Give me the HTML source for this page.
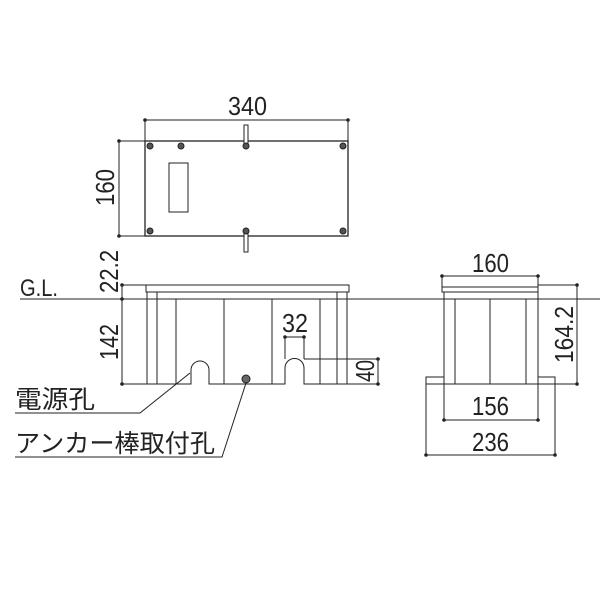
<!DOCTYPE html>
<html><head><meta charset="utf-8"><style>html,body{margin:0;padding:0;background:#fff}svg{display:block}</style></head><body>
<svg width="600" height="600" viewBox="0 0 600 600" xmlns="http://www.w3.org/2000/svg">
<g stroke="#222" stroke-width="1" fill="none">
<rect x="145" y="141" width="203" height="95" stroke-width="1.3"/>
<rect x="169" y="163" width="19" height="49"/>
<line x1="145" y1="120" x2="348" y2="120"/><line x1="145" y1="120" x2="145" y2="141"/><line x1="348" y1="120" x2="348" y2="141"/>
<line x1="119" y1="141" x2="145" y2="141"/><line x1="119" y1="236" x2="145" y2="236"/><line x1="119" y1="141" x2="119" y2="236"/>
<rect x="244" y="125" width="4" height="20" fill="#fff"/><rect x="244" y="232" width="4" height="20" fill="#fff"/>
<g fill="#555"><circle cx="150" cy="146" r="3"/><circle cx="181" cy="146" r="3"/><circle cx="246" cy="146" r="3"/><circle cx="343" cy="146" r="3"/><circle cx="150" cy="231" r="3"/><circle cx="246" cy="231" r="3"/><circle cx="343" cy="231" r="3"/></g>
<rect x="146" y="285" width="203" height="7"/>
<line x1="20" y1="299" x2="600" y2="299"/>
<path d="M147 292V384M157 292V384M176 299V384M224 299V384M272 299V384M320 299V384M337 292V384M347 292V384"/>
<path d="M122 384H191V370A9 9 0 0 1 209 370V384H285V368A9.5 9.5 0 0 1 304 368V384H347"/>
<line x1="122" y1="285" x2="146" y2="285"/><line x1="122" y1="285" x2="122" y2="384"/>
<line x1="285" y1="337" x2="304" y2="337"/><line x1="285" y1="337" x2="285" y2="359"/><line x1="304" y1="337" x2="304" y2="359"/>
<line x1="304" y1="359" x2="378" y2="359"/><line x1="347" y1="384" x2="378" y2="384"/><line x1="378" y1="359" x2="378" y2="384"/>
<circle cx="246" cy="379" r="4" fill="#666"/>
<path d="M190 373L140 413H15"/><path d="M246 383L222 457H15"/>
<rect x="442" y="287" width="96" height="5"/>
<path d="M444 292V384H538V292M455 299V384M490 299V384M526 299V384"/>
<rect x="426" y="377" width="18" height="7"/><rect x="538" y="377" width="17" height="7"/>
<line x1="442" y1="276" x2="538" y2="276"/><line x1="442" y1="276" x2="442" y2="287"/><line x1="538" y1="276" x2="538" y2="287"/>
<line x1="538" y1="285" x2="577" y2="285"/><line x1="555" y1="384" x2="577" y2="384"/><line x1="577" y1="285" x2="577" y2="384"/>
<line x1="444" y1="384" x2="444" y2="420"/><line x1="538" y1="384" x2="538" y2="420"/><line x1="444" y1="420" x2="538" y2="420"/>
<line x1="426" y1="384" x2="426" y2="455"/><line x1="555" y1="384" x2="555" y2="455"/><line x1="426" y1="455" x2="555" y2="455"/>
</g>
<g fill="#222">
<circle cx="145" cy="120" r="1.8"/><circle cx="348" cy="120" r="1.8"/><circle cx="119" cy="141" r="1.8"/><circle cx="119" cy="236" r="1.8"/>
<circle cx="122" cy="285" r="1.8"/><circle cx="122" cy="299" r="1.8"/><circle cx="122" cy="384" r="1.8"/>
<circle cx="285" cy="337" r="1.8"/><circle cx="304" cy="337" r="1.8"/><circle cx="378" cy="359" r="1.8"/><circle cx="378" cy="384" r="1.8"/>
<circle cx="442" cy="276" r="1.8"/><circle cx="538" cy="276" r="1.8"/><circle cx="577" cy="285" r="1.8"/><circle cx="577" cy="384" r="1.8"/>
<circle cx="444" cy="420" r="1.8"/><circle cx="538" cy="420" r="1.8"/><circle cx="426" cy="455" r="1.8"/><circle cx="555" cy="455" r="1.8"/>
</g>
<g font-family="'Liberation Sans',sans-serif" font-size="26" fill="#222" lengthAdjust="spacingAndGlyphs">
<text x="228" y="115" textLength="39" lengthAdjust="spacingAndGlyphs">340</text>
<text transform="translate(114,206) rotate(-90)" textLength="37" lengthAdjust="spacingAndGlyphs">160</text>
<text transform="translate(118,293) rotate(-90)" textLength="43" lengthAdjust="spacingAndGlyphs">22.2</text>
<text transform="translate(118,360) rotate(-90)" textLength="36" lengthAdjust="spacingAndGlyphs">142</text>
<text x="282" y="332" textLength="26" lengthAdjust="spacingAndGlyphs">32</text>
<text transform="translate(374,382) rotate(-90)" textLength="22" lengthAdjust="spacingAndGlyphs">40</text>
<text x="472" y="272" textLength="37" lengthAdjust="spacingAndGlyphs">160</text>
<text transform="translate(573,363) rotate(-90)" textLength="57" lengthAdjust="spacingAndGlyphs">164.2</text>
<text x="472" y="415" textLength="37" lengthAdjust="spacingAndGlyphs">156</text>
<text x="472" y="451" textLength="37" lengthAdjust="spacingAndGlyphs">236</text>
<text x="20" y="296" font-size="24" textLength="38" lengthAdjust="spacingAndGlyphs">G.L.</text>
</g>
<g font-family="'Liberation Sans','Noto Sans CJK JP',sans-serif" font-size="25" fill="#222">
<text x="15" y="408" textLength="80" lengthAdjust="spacingAndGlyphs">電源孔</text>
<text x="15" y="452" textLength="200" lengthAdjust="spacingAndGlyphs">アンカー棒取付孔</text>
</g>
</svg>
</body></html>
